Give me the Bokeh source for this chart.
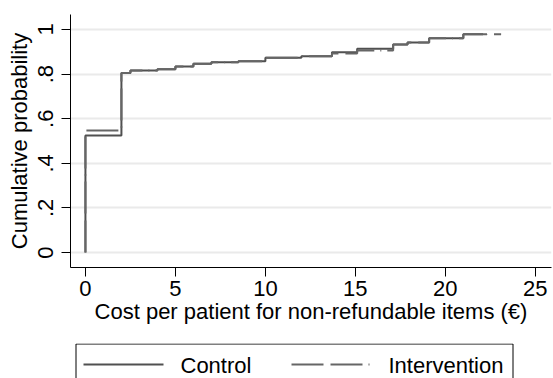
from bokeh.plotting import figure
from bokeh.layouts import column
from bokeh.models import Range1d, FixedTicker, CustomJSTickFormatter
from bokeh.core.properties import value
from bokeh.embed import file_html
from bokeh.resources import INLINE

# Empirical CDF step points (cost in €, cumulative probability)
control_x = [0, 0, 2, 2.5, 4, 5, 6, 7, 8.5, 10, 12, 13.7, 15.1, 17.1, 17.9, 19.1, 21, 22.1]
control_y = [0, 0.525, 0.805, 0.816, 0.822, 0.834, 0.846, 0.853, 0.858, 0.873, 0.880, 0.898, 0.913, 0.933, 0.942, 0.961, 0.978, 0.978]

interv_x = [0, 0, 2, 2.5, 4, 5, 6, 7, 8.5, 10, 12, 13.7, 15.1, 17.1, 17.9, 19.1, 21, 22.3, 23.1]
interv_y = [0, 0.547, 0.805, 0.816, 0.822, 0.834, 0.846, 0.853, 0.858, 0.873, 0.880, 0.892, 0.906, 0.933, 0.942, 0.961, 0.978, 0.979, 0.979]

x_ticks = [0, 5, 10, 15, 20, 25]
y_ticks = [0, 0.2, 0.4, 0.6, 0.8, 1]
series_labels = ["Control", "Intervention"]

FONT = "Liberation Sans"
CTRL_STYLE = dict(line_color="#505050", line_width=2)
INTV_STYLE = dict(line_color="#666666", line_width=2, line_dash="32 7 32 6 1 6")

p = figure(width=553, height=343, output_backend="svg", toolbar_location=None,
           x_range=Range1d(-0.83, 25.9), y_range=Range1d(-0.067, 1.067),
           min_border_left=70, min_border_right=2, min_border_top=14, min_border_bottom=76)
p.outline_line_color = None
p.background_fill_color = "white"
p.border_fill_color = "white"

p.step(control_x, control_y, mode="after", **CTRL_STYLE)
p.step(interv_x, interv_y, mode="after", **INTV_STYLE)

p.xgrid.visible = False
p.ygrid.grid_line_color = "#eaeaea"
p.ygrid.grid_line_width = 2
p.ygrid.ticker = FixedTicker(ticks=y_ticks)

for ax in (p.xaxis, p.yaxis):
    ax.axis_line_color = "black"
    ax.major_tick_line_color = "black"
    ax.major_tick_out = 9
    ax.major_tick_in = 0
    ax.minor_tick_line_color = None
    ax.major_label_text_font = FONT
    ax.major_label_text_font_size = "22px"
    ax.major_label_text_color = "black"
    ax.axis_label_text_font = FONT
    ax.axis_label_text_font_size = "22px"
    ax.axis_label_text_font_style = "normal"
    ax.axis_label_text_color = "black"

p.xaxis.ticker = FixedTicker(ticks=x_ticks)
p.yaxis.ticker = FixedTicker(ticks=y_ticks)
p.yaxis.formatter = CustomJSTickFormatter(code="""
    if (tick == 0) return '0';
    if (Math.abs(tick - 1) < 1e-9) return '1';
    return tick.toFixed(1).replace(/^0/, '');
""")
p.yaxis.major_label_orientation = "vertical"
p.xaxis.axis_label = "Cost per patient for non-refundable items (€)"
p.yaxis.axis_label = "Cumulative probability"
p.xaxis.major_label_standoff = 4
p.xaxis.axis_label_standoff = 0
p.yaxis.major_label_standoff = 8
p.yaxis.axis_label_standoff = 4

# Legend strip below the plot (box cut off at the bottom edge, as in the reference).
# Its frame is aligned with the main frame (pixels 70..551), so the range is in page pixels.
lg = figure(width=553, height=35, output_backend="svg", toolbar_location=None,
            x_range=Range1d(70, 551), y_range=Range1d(0, 35),
            x_axis_type=None, y_axis_type=None,
            min_border_left=70, min_border_right=2, min_border_top=0, min_border_bottom=0)
lg.outline_line_color = None
lg.xgrid.visible = False
lg.ygrid.visible = False
lg.background_fill_color = "white"
lg.border_fill_color = "white"

box_l, box_r, box_t, box_b = 75.5, 512.5, 34.5, -10
lg.multi_line(xs=[[box_l, box_l, box_r, box_r]], ys=[[box_b, box_t, box_t, box_b]],
              line_color="black", line_width=1)
lg.line([83, 163], [14, 14], **CTRL_STYLE)
lg.line([291, 371], [14, 14], **INTV_STYLE)
lg.text(x=[180, 388], y=[13.5, 13.5], text=series_labels,
        text_font=value(FONT), text_font_size=value("22px"),
        text_baseline="middle", text_align="left", text_color="black")

layout = column(p, lg, spacing=0)
open("out.html", "w").write(file_html(layout, INLINE))
